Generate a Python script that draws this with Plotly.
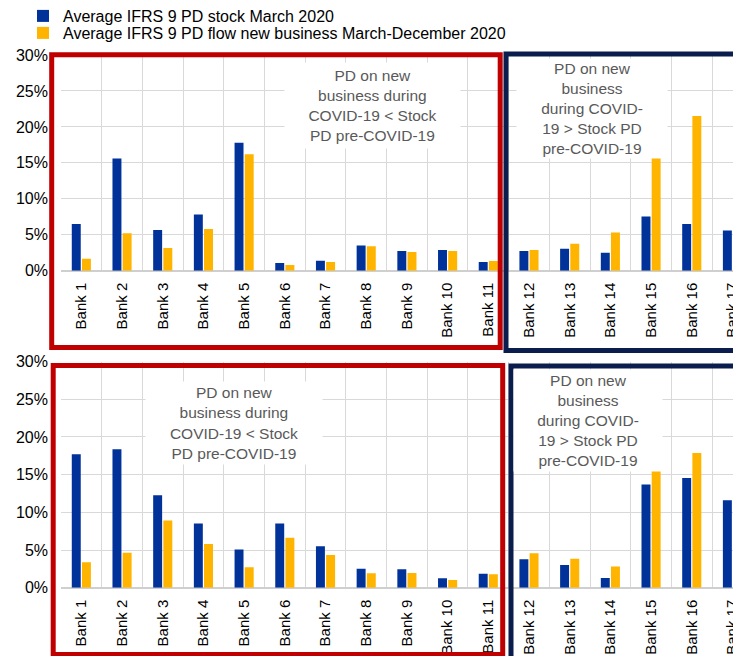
import plotly.graph_objects as go

# page body adds an 8px offset, so the figure is 8px smaller than the window
OFF = 8
W, H = 741 - OFF, 656 - OFF
L = 53  # left margin in figure pixels

banks = [f"Bank {i}" for i in range(1, 18)]

# Average IFRS 9 PD (%), top panel
top_stock = [6.5, 15.6, 5.65, 7.8, 17.8, 1.07, 1.4, 3.5, 2.74, 2.87, 1.2, 2.74, 3.06, 2.5, 7.55, 6.5, 5.6]
top_flow = [1.67, 5.2, 3.15, 5.8, 16.2, 0.8, 1.2, 3.4, 2.6, 2.74, 1.35, 2.87, 3.75, 5.3, 16.85, 21.5, 22.1]

# bottom panel
bottom_stock = [17.7, 18.35, 12.25, 8.5, 5.05, 8.5, 5.5, 2.52, 2.44, 1.24, 1.86, 3.76, 3.0, 1.29, 13.7, 14.55, 11.6]
bottom_flow = [3.37, 4.65, 8.9, 5.8, 2.7, 6.63, 4.34, 1.9, 1.95, 1.02, 1.77, 4.56, 3.85, 2.8, 16.9, 17.85, 15.3]

series_names = ["Average IFRS 9 PD stock March 2020",
                "Average IFRS 9 PD flow new business March-December 2020"]
note_lower = "PD on new<br>business during<br>COVID-19 < Stock<br>PD pre-COVID-19"
note_higher = "PD on new<br>business<br>during COVID-<br>19 > Stock PD<br>pre-COVID-19"

BLUE = "#003299"
YELLOW = "#FFB400"
RED = "#C00000"
NAVY = "#0B1D4D"
FONT = "Liberation Sans, Arial, sans-serif"


def px(x):
    # window pixel -> paper x (paper spans the plot area)
    return (x - OFF - L) / (W - L)


def py(y):
    return 1 - (y - OFF) / H


fig = go.Figure()
for i, (stock, flow) in enumerate([(top_stock, top_flow), (bottom_stock, bottom_flow)]):
    xa = "x" if i == 0 else "x2"
    ya = "y" if i == 0 else "y2"
    fig.add_trace(go.Bar(x=banks, y=stock, name=series_names[0], marker_color=BLUE,
                         legend="legend", showlegend=(i == 0), xaxis=xa, yaxis=ya,
                         marker_line_width=0))
    fig.add_trace(go.Bar(x=banks, y=flow, name=series_names[1], marker_color=YELLOW,
                         legend="legend2", showlegend=(i == 0), xaxis=xa, yaxis=ya,
                         marker_line_width=0))

xcommon = dict(type="category", tickson="boundaries", showgrid=True, gridcolor="#d9d9d9",
               tickangle=-90, range=[-0.5, 16.21], ticks="", showline=False,
               ticklabelstandoff=8,
               tickfont=dict(size=15, color="#000000", family=FONT))
ycommon = dict(range=[0, 30], dtick=5, ticksuffix="%", showgrid=True, gridcolor="#d9d9d9",
               zeroline=True, zerolinecolor="#cfcfcf", zerolinewidth=1.5,
               ticklabelstandoff=12, tickfont=dict(size=16, color="#000000", family=FONT))

leg = dict(xanchor="left", yanchor="middle", orientation="v",
           font=dict(size=16, family=FONT), bgcolor="rgba(0,0,0,0)",
           itemsizing="constant", borderwidth=0)

fig.update_layout(
    width=W, height=H,
    margin=dict(l=L, r=0, t=0, b=0, autoexpand=False),
    plot_bgcolor="white", paper_bgcolor="white",
    font=dict(family=FONT, size=15, color="#000000"),
    barmode="group", bargap=0.5, bargroupgap=0.12,
    xaxis=dict(domain=[0, 1], anchor="y", **xcommon),
    xaxis2=dict(domain=[0, 1], anchor="y2", **xcommon),
    yaxis=dict(domain=[py(270.7), py(55)], anchor="x", **ycommon),
    yaxis2=dict(domain=[py(587.7), py(361.5)], anchor="x2", **ycommon),
    legend=dict(x=px(23), y=py(16), **leg),
    legend2=dict(x=px(23), y=py(33), **leg),
)

# framed groups
frames = [
    (51.7, 54.7, 500.2, 347.5, RED),
    (506, 54, 760, 350.5, NAVY),
    (53.2, 365.5, 502.7, 654.5, RED),
    (511, 366, 760, 680, NAVY),
]
for x0, y0, x1, y1, c in frames:
    fig.add_shape(type="rect", xref="paper", yref="paper",
                  x0=px(x0), x1=px(x1), y0=py(y1), y1=py(y0),
                  line=dict(color=c, width=5), fillcolor="rgba(0,0,0,0)", layer="above")

notes = [
    (372, 105.5, 173, 83, note_lower),
    (592, 108, 148, 97, note_higher),
    (234, 423, 174, 80, note_lower),
    (588, 420.5, 146, 99, note_higher),
]
for cx, cy, w, h, txt in notes:
    fig.add_annotation(x=px(cx), y=py(cy), xref="paper", yref="paper", text=txt,
                       showarrow=False, width=w, height=h, bgcolor="white",
                       font=dict(size=15.5, color="#595959", family=FONT),
                       xanchor="center", yanchor="middle", align="center")

fig.write_html("out.html")
